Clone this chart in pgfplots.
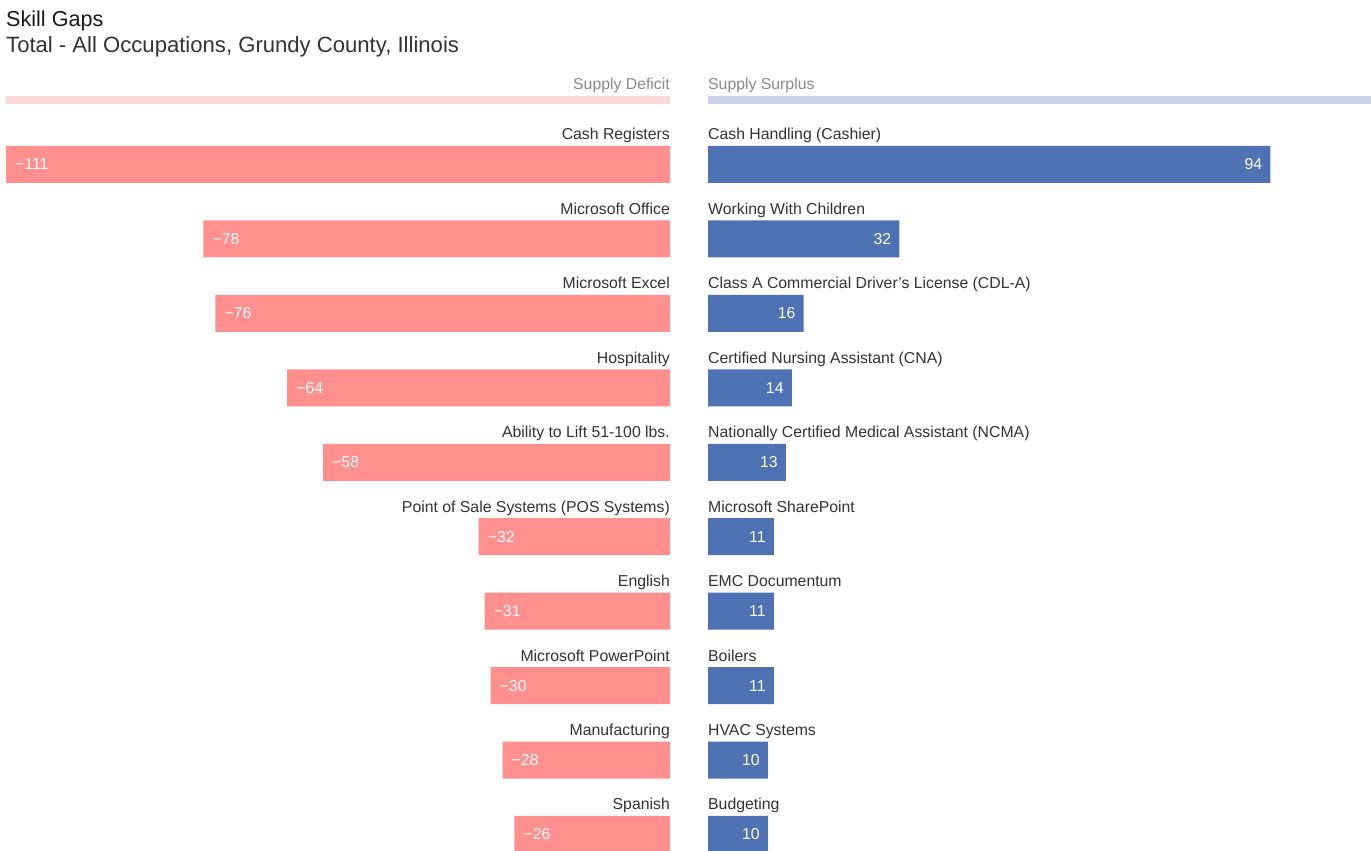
\documentclass[border=0pt]{standalone}
\usepackage{fontspec}
\setmainfont{Liberation Sans}
\usepackage{pgfplots}
\usepackage{pgfplotstable}
\pgfplotsset{compat=1.18}
\definecolor{deficit}{HTML}{FF908E}
\definecolor{surplus}{HTML}{4E72B4}
\definecolor{deficitlight}{HTML}{FCDADA}
\definecolor{surpluslight}{HTML}{CDD3E6}
\definecolor{labelgray}{HTML}{333333}
\definecolor{headgray}{HTML}{8A8A8A}

\pgfplotstableread{
row value mag label
0 -111 111 {Cash Registers}
1 -78 78 {Microsoft Office}
2 -76 76 {Microsoft Excel}
3 -64 64 {Hospitality}
4 -58 58 {Ability to Lift 51-100 lbs.}
5 -32 32 {Point of Sale Systems (POS Systems)}
6 -31 31 {English}
7 -30 30 {Microsoft PowerPoint}
8 -28 28 {Manufacturing}
9 -26 26 {Spanish}
}\deficittable

\pgfplotstableread{
row value label
0 94 {Cash Handling (Cashier)}
1 32 {Working With Children}
2 16 {Class A Commercial Driver's License (CDL-A)}
3 14 {Certified Nursing Assistant (CNA)}
4 13 {Nationally Certified Medical Assistant (NCMA)}
5 11 {Microsoft SharePoint}
6 11 {EMC Documentum}
7 11 {Boilers}
8 10 {HVAC Systems}
9 10 {Budgeting}
}\surplustable

\newcommand{\lblfont}{\fontsize{15.8}{19}\selectfont}

\begin{document}
\begin{tikzpicture}
\path[use as bounding box] (0,0) rectangle (1371pt,851pt);
% titles
\node[anchor=base west, inner sep=0, text=black!90] at (6pt,824pt) {\fontsize{21.6}{25}\selectfont Skill Gaps};
\node[anchor=base west, inner sep=0, text=labelgray] at (6pt,798pt) {\fontsize{22.1}{25}\selectfont Total - All Occupations, Grundy County, Illinois};
% headers
\node[anchor=base east, inner sep=0, text=headgray] at (670pt,761pt) {\lblfont Supply Deficit};
\node[anchor=base west, inner sep=0, text=headgray] at (708pt,761pt) {\lblfont Supply Surplus};
\fill[deficitlight] (6pt,747pt) rectangle (670pt,755pt);
\fill[surpluslight] (708pt,747pt) rectangle (1371pt,755pt);

\begin{axis}[
  at={(6pt,723.72pt)}, anchor=north west,
  scale only axis, width=664pt, height=744.4pt,
  xmin=-111, xmax=0, ymin=-0.5, ymax=9.5, y dir=reverse,
  hide axis, clip=false,
]
\addplot[xbar, bar width=37pt, fill=deficit, draw=none,
  point meta=explicit,
  nodes near coords={−\pgfmathprintnumber[assume math mode=true]{\pgfplotspointmeta}},
  every node near coord/.append style={anchor=west, inner sep=0, xshift=9pt, text=white, font=\lblfont},
] table[x=value, y=row, meta=mag] {\deficittable};
\addplot[draw=none, mark=none,
  point meta=explicit symbolic,
  nodes near coords,
  every node near coord/.append style={anchor=base east, inner sep=0, yshift=24.5pt, text=labelgray, font=\lblfont},
] table[x expr=0, y=row, meta=label] {\deficittable};
\end{axis}

\begin{axis}[
  at={(708pt,723.72pt)}, anchor=north west,
  scale only axis, width=663pt, height=744.4pt,
  xmin=0, xmax=110.83, ymin=-0.5, ymax=9.5, y dir=reverse,
  hide axis, clip=false,
]
\addplot[xbar, bar width=37pt, fill=surplus, draw=none,
  point meta=explicit,
  nodes near coords={\pgfmathprintnumber[assume math mode=true]{\pgfplotspointmeta}},
  every node near coord/.append style={anchor=east, inner sep=0, xshift=-8pt, text=white, font=\lblfont},
] table[x=value, y=row, meta=value] {\surplustable};
\addplot[draw=none, mark=none,
  point meta=explicit symbolic,
  nodes near coords,
  every node near coord/.append style={anchor=base west, inner sep=0, yshift=24.5pt, text=labelgray, font=\lblfont},
] table[x expr=0, y=row, meta=label] {\surplustable};
\end{axis}
\end{tikzpicture}
\end{document}
